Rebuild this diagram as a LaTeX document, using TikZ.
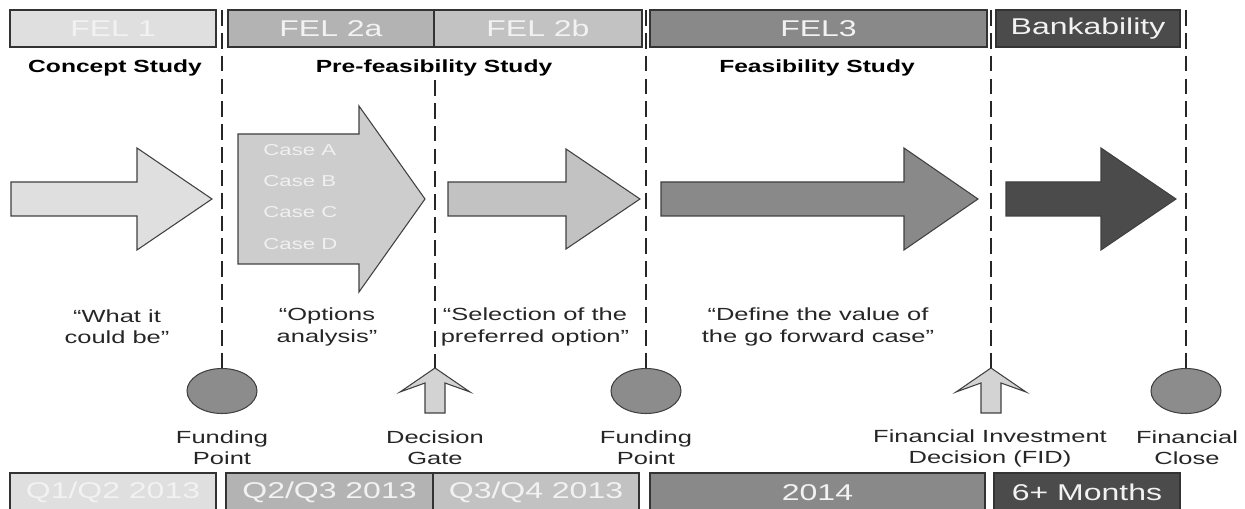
\documentclass[tikz,border=0pt]{standalone}
\usepackage{fontspec}
\setmainfont{Liberation Sans}
\usepackage{graphicx}
\usetikzlibrary{positioning}
\usetikzlibrary{shapes.geometric}

\definecolor{felA}{HTML}{DFDFDF}
\definecolor{felB}{HTML}{B3B3B3}
\definecolor{felC}{HTML}{C2C2C2}
\definecolor{felD}{HTML}{898989}
\definecolor{felE}{HTML}{4B4B4B}
\definecolor{caseFill}{HTML}{CDCDCD}
\definecolor{gateFill}{HTML}{D3D3D3}
\definecolor{dotFill}{HTML}{8C8C8C}
\definecolor{ink}{HTML}{262626}

% wide sans text
\newcommand{\wtext}[1]{\scalebox{1.4}[1]{#1}}

\tikzset{
    phase/.style={draw=black!80, line width=0.7pt, inner sep=0pt,
        text=white!95!black, font=\fontsize{13}{15}\selectfont},
    lbl/.style={align=center, xscale=1.45, text=ink, inner sep=0pt,
        font=\fontsize{10}{12}\selectfont},
    heading/.style={xscale=1.4, inner sep=0pt, font=\fontsize{10}{12}\selectfont\bfseries},
    caselbl/.style={anchor=west, xscale=1.4, inner sep=0pt, text=white!94!black,
        font=\fontsize{9}{11}\selectfont},
    phaseline/.style={draw=ink, line width=0.8pt, dash pattern=on 9pt off 4pt},
    outline/.style={draw=black!75, line width=0.6pt, line join=miter},
    milestone/.style={ellipse, outline, fill=dotFill, minimum width=1.4cm,
        minimum height=0.9cm, inner sep=0pt}
}

\begin{document}
\begin{tikzpicture}[x=0.02cm, y=-0.02cm]
\useasboundingbox (0,0) rectangle (1245,509);

% Phase boxes along the top
\node[phase, fill=felA, minimum width=4.12cm, minimum height=0.74cm] (fel1) at (113,28.5) {\wtext{FEL 1}};
\node[phase, fill=felB, minimum width=4.12cm, minimum height=0.74cm] (fel2a) at (331,28.5) {\wtext{FEL 2a}};
\node[phase, fill=felC, minimum width=4.16cm, minimum height=0.74cm] (fel2b) at (538,28.5) {\wtext{FEL 2b}};
\node[phase, fill=felD, minimum width=6.74cm, minimum height=0.74cm] (fel3) at (818.5,28.5) {\wtext{FEL3}};
\node[phase, fill=felE, minimum width=3.68cm, minimum height=0.74cm] (bank) at (1088,28.5) {\wtext{Bankability}};

% Study titles
\node[heading] (concept) at (115,68) {Concept Study};
\node[heading] (prefeas) at (434,68) {Pre-feasibility Study};
\node[heading] (feas) at (817,68) {Feasibility Study};

% Stage arrows: left / head base / tip / shaft half / head half / colour
\foreach \l/\b/\t/\s/\h/\c in {11/137/212/17/51/felA, 238/359/425/65/93/caseFill,
        448/566/640/17/50/felC, 661/904/978/17/51/felD, 1006/1101/1176/17/51/felE} {
    \draw[outline, fill=\c] (\l,199-\s) -- (\b,199-\s) -- (\b,199-\h) -- (\t,199)
        -- (\b,199+\h) -- (\b,199+\s) -- (\l,199+\s) -- cycle;
}

% Options inside the second arrow
\node[caselbl] (caseA) at (263,150) {Case A};
\node[caselbl] (caseB) at (263,181) {Case B};
\node[caselbl] (caseC) at (263,212) {Case C};
\node[caselbl] (caseD) at (263,244) {Case D};

% Stage descriptions
\node[lbl] (q1) at (117,327) {``What it\\could be''};
\node[lbl] (q2) at (327,327) {``Options\\analysis''};
\node[lbl] (q3) at (535,327) {``Selection of the\\preferred option''};
\node[lbl] (q4) at (818,327) {``Define the value of\\the go forward case''};

% Milestones
\node[milestone] (fund1) at (222,391) {};
\node[milestone] (fund2) at (646,391) {};
\node[milestone] (close) at (1186,391) {};

\foreach \x/\n in {435/gate, 991/fid} {
    \coordinate (\n) at (\x,368);
    \draw[outline, fill=gateFill] (\n) -- ++(35,24) -- ++(-25,-9) -- ++(0,30)
        -- ++(-20,0) -- ++(0,-30) -- ++(-25,9) -- cycle;
}

% Dashed phase boundaries
\coordinate (top1) at (222,10);
\coordinate (top2) at (435,80);
\coordinate (top3) at (646,10);
\coordinate (top4) at (991,10);
\coordinate (top5) at (1186,10);
\draw[phaseline] (top1) -- (fund1.north);
\draw[phaseline] (top2) -- (gate);
\draw[phaseline] (top3) -- (fund2.north);
\draw[phaseline] (top4) -- (fid);
\draw[phaseline] (top5) -- (close.north);

% Milestone names
\node[lbl] (fund1lbl) at (222,448) {Funding\\Point};
\node[lbl] (gatelbl) at (435,448) {Decision\\Gate};
\node[lbl] (fund2lbl) at (646,448) {Funding\\Point};
\node[lbl] (fidlbl) at (990,448) {Financial Investment\\Decision (FID)};
\node[lbl] (closelbl) at (1187,448) {Financial\\Close};

% Timing boxes along the bottom
\node[phase, fill=felA, minimum width=4.12cm, minimum height=0.78cm] (t1) at (113,492.5) {\wtext{Q1/Q2 2013}};
\node[phase, fill=felB, minimum width=4.14cm, minimum height=0.78cm] (t2) at (329.5,492.5) {\wtext{Q2/Q3 2013}};
\node[phase, fill=felC, minimum width=4.12cm, minimum height=0.78cm] (t3) at (536,492.5) {\wtext{Q3/Q4 2013}};
\node[phase, fill=felD, minimum width=6.70cm, minimum height=0.78cm] (t4) at (817.5,492.5) {\wtext{2014}};
\node[phase, fill=felE, minimum width=3.72cm, minimum height=0.78cm] (t5) at (1087,492.5) {\wtext{6+ Months}};

\end{tikzpicture}
\end{document}
